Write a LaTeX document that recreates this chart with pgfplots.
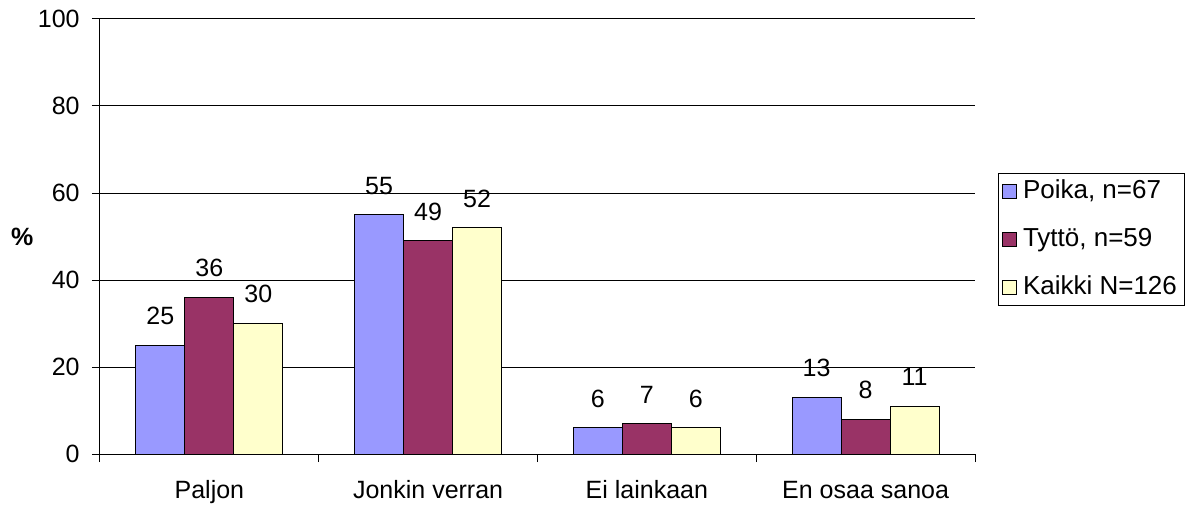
\documentclass[border=0pt]{standalone}
\usepackage{fontspec}
\setmainfont{Liberation Sans}
\usepackage{pgfplots}
\pgfplotsset{compat=1.18}
\definecolor{cPoika}{HTML}{9999FF}
\definecolor{cTytto}{HTML}{993366}
\definecolor{cKaikki}{HTML}{FFFFCC}
\begin{document}
\fontsize{12.5}{15}\selectfont
\begin{tikzpicture}
\path[use as bounding box] (0,0) rectangle (597pt,252pt);
\begin{axis}[
  /pgf/number format/assume math mode=true,
  at={(50pt,25pt)}, anchor=south west,
  width=437.5pt, height=217.5pt, scale only axis,
  xmin=-0.5, xmax=3.5, ymin=0, ymax=100,
  ytick={0,20,...,100},
  ymajorgrids, grid style={black, line width=0.5pt},
  axis x line*=bottom, axis y line*=left,
  axis line style={black, line width=0.5pt, -},
  tick align=outside, major tick length=4pt,
  tick style={black, line width=0.5pt},
  xtick={-0.5,0.5,1.5,2.5,3.5}, xticklabels={},
  extra x ticks={0,1,2,3},
  extra x tick labels={Paljon,Jonkin verran,Ei lainkaan,En osaa sanoa},
  extra x tick style={major tick length=0pt, grid=none},
  xticklabel style={font=\fontsize{12.5}{15}\selectfont, text height=9pt, text depth=2.5pt, inner sep=0pt, anchor=north, yshift=-13pt},
  yticklabel style={font=\fontsize{12.5}{15}\selectfont, inner sep=0pt, anchor=east, xshift=-6pt},
  ylabel={\textbf{\%}},
  ylabel style={at={(rel axis cs:-0.089,0.5)}, rotate=-90, anchor=center, font=\fontsize{12.5}{15}\selectfont},
  ybar=0pt, bar width=24.5pt,
  nodes near coords,
  every node near coord/.append style={anchor=south, inner sep=0pt, yshift=10pt, font=\fontsize{12.5}{15}\selectfont, black},
  legend style={at={(rel axis cs:1.0263,0.646)}, anchor=north west, draw=black, line width=0.5pt,
     inner sep=1.75pt, row sep=9pt, font=\fontsize{13}{15}\selectfont,
     cells={anchor=west, inner sep=1pt, text height=9pt, text depth=2.5pt}},
  legend image code/.code={\draw[#1, draw=black, line width=0.5pt] (0pt,-3.5pt) rectangle (7pt,3.5pt);},
]
\addplot[fill=cPoika, draw=black, line width=0.5pt] coordinates {(0,25) (1,55) (2,6) (3,13)};
\addplot[fill=cTytto, draw=black, line width=0.5pt] coordinates {(0,36) (1,49) (2,7) (3,8)};
\addplot[fill=cKaikki, draw=black, line width=0.5pt] coordinates {(0,30) (1,52) (2,6) (3,11)};
\legend{\hspace{1pt}Poika{,} n=67, \hspace{1pt}Tyttö{,} n=59, \hspace{1pt}Kaikki N=126\hspace{2pt}}
\end{axis}
\end{tikzpicture}
\end{document}
